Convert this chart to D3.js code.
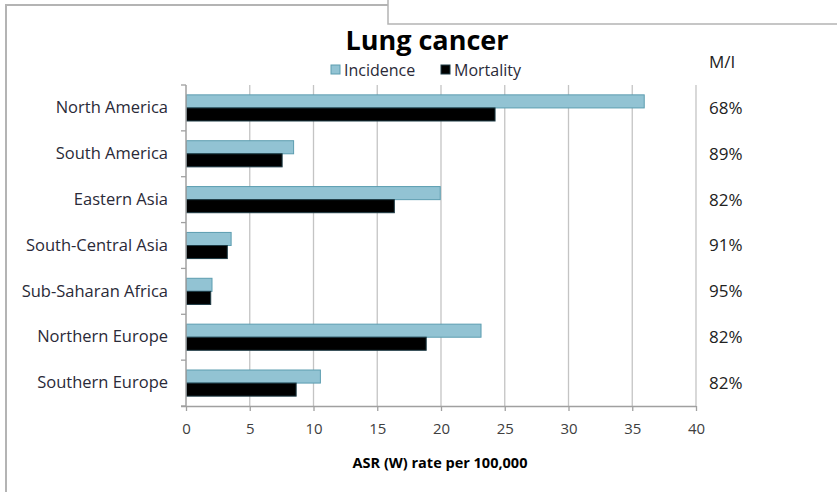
<!DOCTYPE html>
<html>
<head>
<meta charset="utf-8">
<script src="https://cdn.jsdelivr.net/npm/d3@7/dist/d3.min.js"></script>
<style>
  body { margin: 0; background: #fff; }
  svg text { font-family: "Open Sans", sans-serif; }
</style>
</head>
<body>
<div id="chart"></div>
<script>
// data
const regions = ['North America', 'South America', 'Eastern Asia', 'South-Central Asia',
  'Sub-Saharan Africa', 'Northern Europe', 'Southern Europe'];
const incidence = [35.9, 8.4, 19.9, 3.5, 2.0, 23.1, 10.5];
const mortality = [24.2, 7.5, 16.3, 3.2, 1.9, 18.8, 8.6];
const ratioLabels = ['68%', '89%', '82%', '91%', '95%', '82%', '82%'];
const xTicks = [0, 5, 10, 15, 20, 25, 30, 35, 40];
const seriesNames = ['Incidence', 'Mortality'];

const w = 837, h = 492;
const margins = { left: 186, right: 141, top: 85, bottom: 86 };
const colors = { Incidence: '#92c3d3', Mortality: '#000000' };
const strokes = { Incidence: '#5c9db0', Mortality: '#1d3a44' };

const svg = d3.select('#chart').append('svg')
  .attr('width', w)
  .attr('height', h);

// slide frames
svg.append('path')
  .attr('d', 'M6,492 V5 H388')
  .attr('fill', 'none')
  .attr('stroke', '#b4b4b4')
  .attr('stroke-width', 2);
svg.append('path')
  .attr('d', 'M388,0 V24 H837')
  .attr('fill', 'none')
  .attr('stroke', '#b4b4b4')
  .attr('stroke-width', 1.5);

const width = w - margins.left - margins.right;
const height = h - margins.top - margins.bottom;

const x = d3.scaleLinear().domain([0, 40]).range([0, width]);
const y = d3.scaleBand().domain(regions).range([0, height]).paddingInner(0.43).paddingOuter(0.215);
const y1 = d3.scaleBand().domain(seriesNames).range([0, y.bandwidth()]);

const chart = svg.append('g')
  .attr('transform', `translate(${margins.left}, ${margins.top})`);

// gridlines
chart.append('g')
  .selectAll('line')
  .data(xTicks.slice(1))
  .enter().append('line')
  .attr('x1', d => x(d)).attr('x2', d => x(d))
  .attr('y1', 0).attr('y2', height)
  .attr('stroke', '#c4c4c4')
  .attr('stroke-width', 1.3);

// bars
const rows = regions.map((r, i) => ({ region: r, Incidence: incidence[i], Mortality: mortality[i] }));
const groups = chart.selectAll('.row')
  .data(rows)
  .enter().append('g')
  .attr('class', 'row')
  .attr('transform', d => `translate(0, ${y(d.region)})`);

groups.selectAll('rect')
  .data(d => seriesNames.map(s => ({ key: s, value: d[s] })))
  .enter().append('rect')
  .attr('x', 0.5)
  .attr('y', d => y1(d.key))
  .attr('width', d => x(d.value))
  .attr('height', y1.bandwidth())
  .attr('fill', d => colors[d.key])
  .attr('stroke', d => strokes[d.key])
  .attr('stroke-width', 1);

// axes
const xAxis = d3.axisBottom(x).tickValues(xTicks).tickSize(5).tickPadding(12);
const gx = chart.append('g')
  .attr('transform', `translate(0, ${height})`)
  .call(xAxis);
gx.select('.domain').attr('stroke', '#a0a0a0').attr('stroke-width', 1.5)
  .attr('d', `M-5,0.5H${width}`);
gx.selectAll('.tick line').attr('stroke', '#a0a0a0').attr('stroke-width', 1.3);
gx.selectAll('.tick text')
  .style('font-size', '15px')
  .attr('fill', '#404040');

const yAxis = d3.axisLeft(y).tickSize(0).tickPadding(18);
const gy = chart.append('g').call(yAxis);
gy.select('.domain').attr('stroke', '#a0a0a0').attr('stroke-width', 1.5)
  .attr('d', `M0,0V${height}`);
gy.selectAll('.tick text')
  .style('font-size', '16.5px')
  .attr('fill', '#2a2a38');

// category boundary ticks on the y axis
const step = y.step();
chart.append('g')
  .selectAll('line')
  .data(d3.range(regions.length + 1))
  .enter().append('line')
  .attr('x1', -5).attr('x2', 0)
  .attr('y1', i => y(regions[0]) - y.paddingOuter() * step + i * step)
  .attr('y2', i => y(regions[0]) - y.paddingOuter() * step + i * step)
  .attr('stroke', '#a0a0a0')
  .attr('stroke-width', 1.3);

// M/I column
svg.append('text')
  .attr('x', 709).attr('y', 68)
  .style('font-size', '17px')
  .attr('fill', '#222')
  .text('M/I');
chart.selectAll('.ratio')
  .data(ratioLabels)
  .enter().append('text')
  .attr('class', 'ratio')
  .attr('x', 709 - margins.left)
  .attr('y', (d, i) => y(regions[i]) + y.bandwidth() / 2)
  .attr('dy', '0.35em')
  .style('font-size', '17px')
  .attr('fill', '#222')
  .text(d => d);

// title
svg.append('text')
  .attr('x', 427).attr('y', 50)
  .attr('text-anchor', 'middle')
  .style('font-size', '27px')
  .style('font-weight', 'bold')
  .attr('fill', '#000')
  .text('Lung cancer');

// legend
const legend = svg.append('g');
const legendX = [331, 441];
seriesNames.forEach((s, i) => {
  legend.append('rect')
    .attr('x', legendX[i]).attr('y', 65)
    .attr('width', 9).attr('height', 9)
    .attr('fill', colors[s])
    .attr('stroke', strokes[s]);
  legend.append('text')
    .attr('x', legendX[i] + 13).attr('y', 76)
    .style('font-size', '16px')
    .attr('fill', '#2a2a38')
    .text(s);
});

// x axis label
svg.append('text')
  .attr('x', 440).attr('y', 468)
  .attr('text-anchor', 'middle')
  .style('font-size', '14.5px')
  .style('font-weight', 'bold')
  .attr('fill', '#000')
  .text('ASR (W) rate per 100,000');
</script>
</body>
</html>
